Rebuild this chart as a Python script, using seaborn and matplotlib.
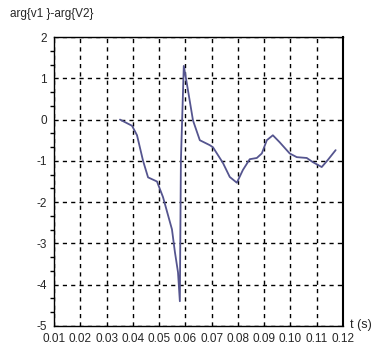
import matplotlib
matplotlib.use("Agg")
import matplotlib.pyplot as plt
import seaborn as sns
import pandas as pd
import numpy as np
from matplotlib.ticker import MultipleLocator

t = [0.0351, 0.0397, 0.0416, 0.0439, 0.0458, 0.0475, 0.0492, 0.0515, 0.0549, 0.0560,
     0.0572, 0.0579, 0.0583, 0.0594, 0.0606, 0.0629, 0.0655, 0.0693, 0.0705, 0.0743,
     0.0769, 0.0796, 0.0819, 0.0845, 0.0872, 0.0891, 0.0910, 0.0933, 0.0959, 0.0997,
     0.1024, 0.1062, 0.1085, 0.1119, 0.1142, 0.1172]
phase = [0.0, -0.15, -0.38, -1.0, -1.4, -1.45, -1.5, -1.88, -2.66, -3.2,
         -3.7, -4.4, -1.0, 1.3, 0.86, -0.02, -0.5, -0.62, -0.67, -1.05,
         -1.39, -1.53, -1.22, -0.96, -0.93, -0.82, -0.5, -0.38, -0.55, -0.82,
         -0.91, -0.93, -1.03, -1.15, -0.98, -0.74]
xticks = [0.01, 0.02, 0.03, 0.04, 0.05, 0.06, 0.07, 0.08, 0.09, 0.10, 0.11, 0.12]
xticklabels = ["0.01", "0.02", "0.03", "0.04", "0.05", "0.06", "0.07", "0.08", "0.09", "0.10", "0.11", "0.12"]
yticks = [-5, -4, -3, -2, -1, 0, 1, 2]

df = pd.DataFrame({"t": t, "phase": phase})

sns.set_style("white")
plt.rcParams["font.family"] = ["Liberation Sans", "DejaVu Sans"]

fig = plt.figure(figsize=(3.74, 3.49), dpi=100)
ax = fig.add_axes([54/374, 1-326/349, (343-54)/374, (326-37)/349])

sns.lineplot(data=df, x="t", y="phase", ax=ax, color="#55558f", linewidth=1.3, sort=False)

ax.set_xlim(0.01, 0.12)
ax.set_ylim(-5, 2)
ax.set_xticks(xticks)
ax.set_xticklabels(xticklabels, fontsize=8.5)
ax.set_yticks(yticks)
ax.set_yticklabels([str(v) for v in yticks], fontsize=8.5)
ax.yaxis.set_minor_locator(MultipleLocator(1/3))
ax.tick_params(axis="both", which="major", direction="inout", length=6, width=1, color="black", pad=2)
ax.tick_params(axis="y", which="minor", direction="out", length=3, width=1, color="black", left=True)
ax.set_xlabel("")
ax.set_ylabel("")

for s in ax.spines.values():
    s.set_color("black")
    s.set_linewidth(1)
ax.spines["right"].set_linewidth(1.5)

ax.grid(True, which="major", color="black", linestyle=(0, (3, 3)), linewidth=1)
ax.set_axisbelow(True)

fig.text(10/374, 1-14/349, "arg{v1 }-arg{V2}", fontsize=8.5, ha="left", va="center")
fig.text(350/374, 1-325/349, "t (s)", fontsize=9, ha="left", va="center")

fig.savefig("out.png", dpi=100, facecolor="white")
